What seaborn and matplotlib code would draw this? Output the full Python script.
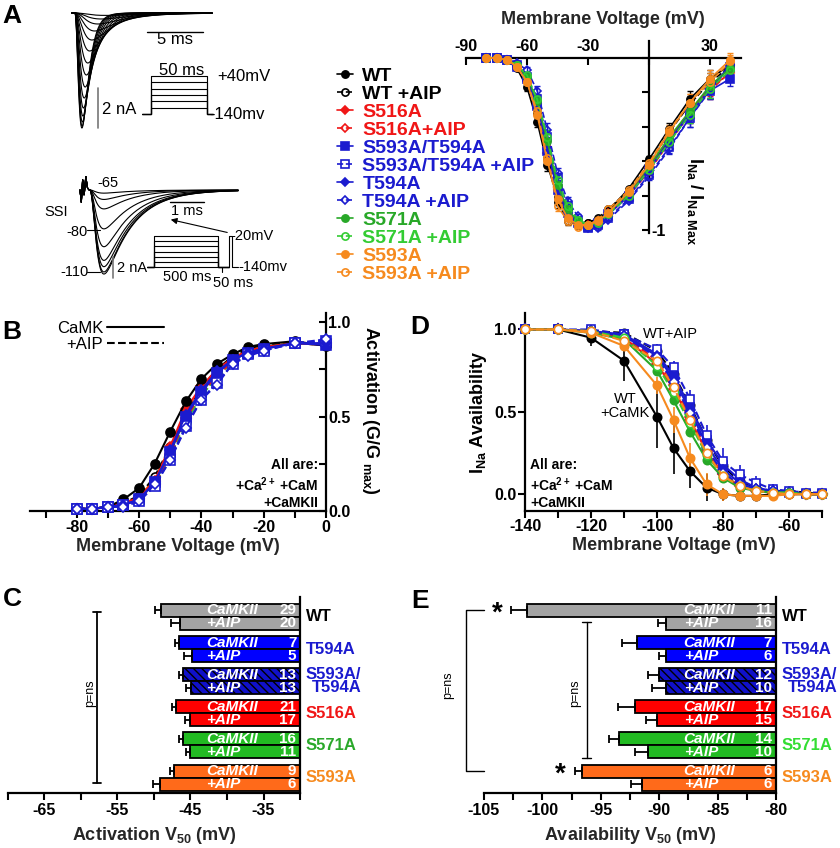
import numpy as np
import pandas as pd
import matplotlib
matplotlib.use("Agg")
import matplotlib.pyplot as plt
import matplotlib.transforms as mtransforms
from matplotlib.lines import Line2D
from matplotlib.ticker import FixedLocator
import seaborn as sns

# ---------------- panel A: current traces (amplitude nA, kinetics ms) ----------------
act_amp_na = [5.75, 5.65, 5.45, 5.15, 4.75, 4.25, 3.7, 3.1, 2.5, 1.9, 1.35, 0.9, 0.55, 0.3, 0.12]
act_tm_ms = [0.38, 0.38, 0.39, 0.40, 0.42, 0.44, 0.47, 0.51, 0.56, 0.62, 0.70, 0.80, 0.92, 1.05, 1.2]
act_th_ms = [0.55, 0.58, 0.62, 0.68, 0.75, 0.85, 0.97, 1.12, 1.3, 1.55, 1.85, 2.2, 2.6, 3.0, 3.5]
act_steps_mv = [-110, -80, -50, -20, 10, 40]

ssi_amp_na = [0.3, 0.9, 1.8, 3.7, 5.4, 6.7, 7.3, 7.8, 8.0]
ssi_tm_ms = 0.15
ssi_th_ms = 0.8
ssi_art_ms = [0.0, 0.04, 0.08, 0.12, 0.17, 0.22, 0.27]
ssi_art_na = [0.0, -1.2, 1.1, -0.6, 1.3, 0.2, 0.0]
ssi_cond_mv = [-140, -120, -100, -80, -60, -40, -20]

# ---------------- panel A: I-V ----------------
iv_mv = [-80, -75, -70, -65, -60, -55, -50, -45, -40, -35, -30, -25, -20, -10, 0, 10, 20, 30, 40]
iv_wt = [0, 0, -0.01, -0.06, -0.17, -0.37, -0.62, -0.81, -0.92, -0.97, -0.96, -0.94, -0.89, -0.76, -0.59, -0.41, -0.24, -0.12, -0.04]
iv_wt_aip = [0, 0, -0.01, -0.04, -0.13, -0.32, -0.58, -0.84, -0.95, -0.97, -0.96, -0.93, -0.88, -0.77, -0.62, -0.43, -0.27, -0.14, -0.05]
iv_s516a = [0, 0, -0.01, -0.04, -0.12, -0.27, -0.52, -0.75, -0.89, -0.95, -0.97, -0.95, -0.90, -0.79, -0.64, -0.47, -0.31, -0.17, -0.09]
iv_s516a_aip = [0, 0, -0.01, -0.05, -0.13, -0.29, -0.55, -0.77, -0.90, -0.96, -0.98, -0.96, -0.91, -0.80, -0.66, -0.49, -0.33, -0.19, -0.08]
iv_dm = [0, 0, -0.01, -0.04, -0.12, -0.28, -0.54, -0.77, -0.90, -0.96, -0.98, -0.96, -0.91, -0.80, -0.65, -0.48, -0.32, -0.19, -0.12]
iv_dm_aip = [0, 0, -0.01, -0.05, -0.11, -0.24, -0.46, -0.70, -0.86, -0.95, -0.99, -0.97, -0.93, -0.82, -0.68, -0.52, -0.35, -0.18, -0.05]
iv_t594a = [0, 0, -0.01, -0.04, -0.12, -0.28, -0.53, -0.76, -0.89, -0.96, -0.98, -0.96, -0.91, -0.80, -0.65, -0.48, -0.33, -0.18, -0.04]
iv_t594a_aip = [0, 0, -0.01, -0.03, -0.07, -0.19, -0.42, -0.67, -0.83, -0.92, -0.99, -0.99, -0.94, -0.83, -0.69, -0.53, -0.35, -0.19, -0.04]
iv_s571a = [0, 0, -0.01, -0.04, -0.11, -0.25, -0.48, -0.74, -0.88, -0.95, -0.97, -0.95, -0.90, -0.78, -0.63, -0.46, -0.31, -0.16, -0.06]
iv_s571a_aip = [0, 0, -0.01, -0.04, -0.10, -0.24, -0.46, -0.71, -0.86, -0.94, -0.97, -0.96, -0.91, -0.80, -0.65, -0.49, -0.33, -0.18, -0.07]
iv_s593a = [0, 0, -0.01, -0.05, -0.14, -0.33, -0.60, -0.82, -0.93, -0.97, -0.97, -0.95, -0.90, -0.78, -0.62, -0.43, -0.26, -0.12, -0.01]
iv_s593a_aip = [0, 0, -0.01, -0.05, -0.14, -0.31, -0.58, -0.86, -0.95, -0.98, -0.97, -0.94, -0.88, -0.77, -0.61, -0.42, -0.26, -0.14, -0.02]
iv_err = [0, 0, 0, 0.01, 0.02, 0.03, 0.04, 0.03, 0.02, 0.01, 0.01, 0.01, 0.01, 0.01, 0.02, 0.03, 0.05, 0.05, 0.04]

# ---------------- panel B: activation ----------------
act_mv = [-80, -75, -70, -65, -60, -55, -50, -45, -40, -35, -30, -25, -20, -10, 0]
act_wt = [0.01, 0.01, 0.02, 0.06, 0.12, 0.25, 0.42, 0.58, 0.70, 0.78, 0.83, 0.87, 0.885, 0.90, 0.875]
act_wt_aip = [0.01, 0.01, 0.02, 0.04, 0.08, 0.18, 0.34, 0.52, 0.65, 0.75, 0.82, 0.86, 0.88, 0.89, 0.88]
act_s516a = [0.01, 0.01, 0.02, 0.04, 0.07, 0.16, 0.34, 0.54, 0.66, 0.75, 0.81, 0.85, 0.87, 0.89, 0.88]
act_s516a_aip = [0.01, 0.01, 0.02, 0.03, 0.06, 0.14, 0.30, 0.49, 0.62, 0.72, 0.79, 0.84, 0.86, 0.89, 0.89]
act_dm = [0.01, 0.01, 0.02, 0.03, 0.06, 0.15, 0.31, 0.50, 0.63, 0.73, 0.80, 0.84, 0.86, 0.89, 0.88]
act_dm_aip = [0.01, 0.01, 0.02, 0.03, 0.05, 0.13, 0.27, 0.45, 0.59, 0.68, 0.78, 0.83, 0.85, 0.89, 0.90]
act_t594a = [0.01, 0.01, 0.02, 0.03, 0.06, 0.15, 0.32, 0.51, 0.64, 0.74, 0.80, 0.84, 0.86, 0.89, 0.89]
act_t594a_aip = [0.01, 0.01, 0.02, 0.02, 0.05, 0.14, 0.27, 0.44, 0.59, 0.67, 0.78, 0.82, 0.85, 0.89, 0.91]
act_s571a = [0.01, 0.01, 0.02, 0.03, 0.06, 0.15, 0.31, 0.50, 0.63, 0.73, 0.80, 0.85, 0.87, 0.89, 0.88]
act_s571a_aip = [0.01, 0.01, 0.02, 0.03, 0.06, 0.14, 0.29, 0.47, 0.61, 0.71, 0.79, 0.84, 0.86, 0.89, 0.89]
act_s593a = [0.01, 0.01, 0.02, 0.04, 0.07, 0.17, 0.33, 0.52, 0.65, 0.75, 0.81, 0.85, 0.87, 0.89, 0.88]
act_s593a_aip = [0.01, 0.01, 0.02, 0.03, 0.06, 0.15, 0.31, 0.50, 0.63, 0.73, 0.80, 0.84, 0.86, 0.89, 0.89]

# ---------------- panel D: availability ----------------
ssi_mv = [-140, -130, -120, -110, -100, -95, -90, -85, -80, -75, -70, -65, -60, -55, -50]
ssi_wt = [1.0, 1.0, 0.95, 0.81, 0.47, 0.28, 0.14, 0.04, 0.0, -0.01, -0.01, 0, 0, 0, 0]
ssi_wt_aip = [1.0, 1.0, 0.99, 0.98, 0.87, 0.73, 0.54, 0.33, 0.17, 0.08, 0.04, 0.02, 0.02, 0.01, 0.0]
ssi_s516a = [1.0, 1.0, 0.99, 0.95, 0.79, 0.64, 0.45, 0.26, 0.12, 0.05, 0.02, 0.01, 0.01, 0, 0]
ssi_s516a_aip = [1.0, 1.0, 0.99, 0.96, 0.81, 0.66, 0.47, 0.27, 0.12, 0.06, 0.03, 0.01, 0.01, 0, 0]
ssi_dm = [1.0, 1.0, 0.99, 0.97, 0.85, 0.72, 0.53, 0.33, 0.18, 0.09, 0.04, 0.02, 0.01, 0, 0]
ssi_dm_aip = [1.0, 1.0, 1.0, 0.97, 0.88, 0.77, 0.58, 0.36, 0.20, 0.12, 0.07, 0.03, 0.02, 0.01, 0.01]
ssi_t594a = [1.0, 1.0, 0.99, 0.96, 0.84, 0.70, 0.51, 0.30, 0.15, 0.07, 0.03, 0.02, 0.01, 0, 0]
ssi_t594a_aip = [1.0, 1.0, 0.99, 0.96, 0.83, 0.68, 0.49, 0.28, 0.13, 0.06, 0.03, 0.02, 0.01, 0, 0]
ssi_s571a = [1.0, 1.0, 0.98, 0.94, 0.75, 0.57, 0.38, 0.21, 0.10, 0.04, 0.02, 0.01, 0.01, 0, 0]
ssi_s571a_aip = [1.0, 1.0, 0.99, 0.95, 0.78, 0.62, 0.43, 0.24, 0.11, 0.05, 0.02, 0.01, 0.01, 0, 0]
ssi_s593a = [1.0, 1.0, 0.98, 0.90, 0.66, 0.45, 0.22, 0.06, 0.0, -0.01, -0.01, -0.01, 0, 0, 0]
ssi_s593a_aip = [1.0, 1.0, 0.99, 0.93, 0.81, 0.65, 0.45, 0.25, 0.11, 0.05, 0.02, 0.01, 0.0, 0, 0]
ssi_wt_err = [0.02, 0.01, 0.05, 0.12, 0.19, 0.16, 0.10, 0.08, 0.04, 0.02, 0.01, 0.01, 0.01, 0.01, 0.01]
ssi_s593a_err = [0.01, 0.01, 0.02, 0.03, 0.05, 0.08, 0.09, 0.07, 0.04, 0.02, 0.01, 0.01, 0.01, 0.01, 0.01]
ssi_dm_aip_err = [0.01, 0.01, 0.01, 0.02, 0.03, 0.04, 0.05, 0.06, 0.08, 0.06, 0.04, 0.03, 0.02, 0.01, 0.01]

# ---------------- series styles ----------------
series_names = ["WT", "WT +AIP", "S516A", "S516A+AIP", "S593A/T594A", "S593A/T594A +AIP",
                "T594A", "T594A +AIP", "S571A", "S571A +AIP", "S593A", "S593A +AIP"]
series_colors = ["black", "black", "#f01616", "#f01616", "#1b1bcf", "#1b1bcf",
                 "#1b1bcf", "#1b1bcf", "#28a828", "#33cc33", "#f68a1e", "#f68a1e"]
series_markers = ["o", "o", "D", "D", "s", "s", "D", "D", "o", "o", "o", "o"]
iv_series = [iv_wt, iv_wt_aip, iv_s516a, iv_s516a_aip, iv_dm, iv_dm_aip,
             iv_t594a, iv_t594a_aip, iv_s571a, iv_s571a_aip, iv_s593a, iv_s593a_aip]
act_series = [act_wt, act_wt_aip, act_s516a, act_s516a_aip, act_dm, act_dm_aip,
              act_t594a, act_t594a_aip, act_s571a, act_s571a_aip, act_s593a, act_s593a_aip]
ssi_series = [ssi_wt, ssi_wt_aip, ssi_s516a, ssi_s516a_aip, ssi_dm, ssi_dm_aip,
              ssi_t594a, ssi_t594a_aip, ssi_s571a, ssi_s571a_aip, ssi_s593a, ssi_s593a_aip]
# drawing order in B: orange underneath, blue on top
act_zorder = [3.5, 3.1, 3.4, 3.3, 3.6, 3.6, 3.8, 3.8, 3.2, 3.2, 3.0, 3.0]

# ---------------- panels C, E: V50 bars ----------------
bar_groups = ["WT", "T594A", "S593A/\nT594A", "S516A", "S571A", "S593A"]
bar_colors = ["#a3a3a3", "#0000ff", "#1010c8", "#ff0000", "#22bb22", "#ff6a1a"]
label_colors = ["black", "#1b1bcf", "#1b1bcf", "#f01616", "#2aa82a", "#f68a1e"]
e_label_colors = ["black", "#1b1bcf", "#1b1bcf", "#f01616", "#33dd33", "#f68a1e"]

act_v50_camk = [-49.1, -46.6, -46.05, -46.97, -46.05, -47.3]
act_v50_aip = [-46.5, -44.8, -44.9, -45.1, -45.1, -49.2]
act_sem_camk = [0.83, 0.5, 0.46, 0.55, 0.46, 0.5]
act_sem_aip = [1.15, 1.15, 0.7, 0.7, 0.46, 0.9]
act_n_camk = [29, 7, 13, 21, 16, 9]
act_n_aip = [20, 5, 13, 17, 11, 6]

avail_v50_camk = [-101.3, -91.9, -90.0, -92.1, -93.4, -96.6]
avail_v50_aip = [-89.4, -89.4, -89.4, -90.2, -91.0, -91.5]
avail_sem_camk = [1.4, 1.3, 1.0, 1.4, 0.9, 0.6]
avail_sem_aip = [0.7, 0.6, 1.2, 0.9, 1.1, 0.9]
avail_n_camk = [11, 7, 12, 17, 14, 6]
avail_n_aip = [16, 6, 10, 15, 10, 6]

# ---------------- style ----------------
sns.set_style("ticks")
plt.rcParams["font.family"] = ["Liberation Sans", "DejaVu Sans"]
plt.rcParams.update({
    "font.weight": "bold",
    "axes.labelweight": "bold",
    "axes.unicode_minus": False,
    "axes.linewidth": 1.6,
    "axes.edgecolor": "black",
    "text.color": "black",
    "xtick.color": "black",
    "ytick.color": "black",
    "xtick.major.width": 1.5, "ytick.major.width": 1.5,
    "xtick.minor.width": 1.5, "ytick.minor.width": 1.5,
    "xtick.major.size": 4.5, "ytick.major.size": 4.5,
    "xtick.minor.size": 4.5, "ytick.minor.size": 4.5,
    "xtick.labelsize": 11.5, "ytick.labelsize": 11.5,
    "hatch.linewidth": 1.0,
    "mathtext.fontset": "custom",
    "mathtext.rm": "Liberation Sans:bold",
    "mathtext.it": "Liberation Sans:italic:bold",
    "mathtext.bf": "Liberation Sans:bold",
    "mathtext.default": "rm",
})

W, H = 840, 848
fig = plt.figure(figsize=(W / 100, H / 100), dpi=100)


def px_box(x0, y0, x1, y1):
    return [x0 / W, 1 - y1 / H, (x1 - x0) / W, (y1 - y0) / H]


def hh_wave(t, tm, th, delay=0.25):
    tt = np.clip(t - delay, 0, None)
    w = (1 - np.exp(-tt / tm)) ** 3 * np.exp(-tt / th)
    return w / w.max()


NORMAL = dict(fontweight="normal")

# ---------------- A: activation traces ----------------
ax_t1 = fig.add_axes(px_box(60, 0, 245, 135))
ax_t1.set_xlim(-1.07, 15.45)
ax_t1.set_ylim(-6.1, 0.65)
ax_t1.axis("off")
t1 = np.linspace(0, 12.5, 800)
for amp, tm, th in zip(act_amp_na, act_tm_ms, act_th_ms):
    ax_t1.plot(t1, -amp * hh_wave(t1, tm, th), color="black", lw=0.8)
ax_t1.plot([6.7, 11.7], [-0.95, -0.95], color="black", lw=1)
ax_t1.text(9.2, -1.3, "5 ms", ha="center", va="center", fontsize=12, **NORMAL)
ax_t1.plot([2.32, 2.32], [-3.75, -5.75], color="#777777", lw=1.2)
ax_t1.text(2.68, -4.85, "2 nA", ha="left", va="center", fontsize=12, **NORMAL)

ax_p1 = fig.add_axes(px_box(130, 60, 270, 125))
ax_p1.set_xlim(-10.7, 114.3)
ax_p1.set_ylim(-192.1, 116)
ax_p1.axis("off")
for lvl in act_steps_mv:
    ax_p1.plot([0, 8, 8, 58, 58, 63], [-140, -140, lvl, lvl, -140, -140], color="black", lw=0.8)
ax_p1.text(35.7, 68, "50 ms", ha="center", va="center", fontsize=12, **NORMAL)
ax_p1.text(67, 40, "+40mV", ha="left", va="center", fontsize=12, **NORMAL)
ax_p1.text(60.5, -140, "-140mv", ha="left", va="center", fontsize=12, **NORMAL)

# ---------------- A: SSI traces ----------------
ax_t2 = fig.add_axes(px_box(40, 165, 250, 290))
ax_t2.set_xlim(-1.176, 5.0)
ax_t2.set_ylim(-9.52, 2.38)
ax_t2.axis("off")
t2 = np.linspace(0, 4.65, 600)
art = np.interp(t2, ssi_art_ms, ssi_art_na)
for amp in ssi_amp_na:
    ax_t2.plot(t2, art - amp * hh_wave(t2, ssi_tm_ms, ssi_th_ms, delay=0.28), color="black", lw=0.8)
ax_t2.plot([2.65, 3.65], [-1.14, -1.14], color="black", lw=1)
ax_t2.text(3.15, -2.0, "1 ms", ha="center", va="center", fontsize=10.5, **NORMAL)
ax_t2.plot([0.97, 0.97], [-6.38, -8.38], color="#777777", lw=1.2)
ax_t2.text(1.09, -7.43, "2 nA", ha="left", va="center", fontsize=10.5, **NORMAL)
ax_t2.text(0.82, 0.67, "-65", ha="center", va="center", fontsize=10.5, **NORMAL)
ax_t2.text(-0.7, -2.1, "SSI", ha="center", va="center", fontsize=10.5, **NORMAL)
ax_t2.text(-0.09, -4.0, "-80", ha="center", va="center", fontsize=10.5, **NORMAL)
ax_t2.plot([0.21, 0.59], [-3.8, -3.8], color="black", lw=0.8)
ax_t2.text(-0.15, -7.8, "-110", ha="center", va="center", fontsize=10.5, **NORMAL)
ax_t2.plot([0.21, 0.59], [-7.8, -7.8], color="black", lw=0.8)
ax_t2.annotate("", xy=(2.59, -2.76), xytext=(4.41, -4.10),
               arrowprops=dict(arrowstyle="-|>", color="black", lw=0.8, mutation_scale=9))

ax_p2 = fig.add_axes(px_box(140, 225, 290, 290))
ax_p2.set_xlim(-54.6, 1115)
ax_p2.set_ylim(-229, 22.6)
ax_p2.axis("off")
for lvl in ssi_cond_mv:
    ax_p2.plot([0, 55, 55, 555, 555, 640], [-140, -140, lvl, lvl, -140, -140], color="black", lw=0.8)
ax_p2.plot([640, 640, 660, 660, 710], [-140, -20, -20, -140, -140], color="black", lw=0.8)
ax_p2.plot([585, 585], [-140, -159], color="black", lw=0.8)
ax_p2.text(312, -180, "500 ms", ha="center", va="center", fontsize=10.5, **NORMAL)
ax_p2.text(671, -203, "50 ms", ha="center", va="center", fontsize=10.5, **NORMAL)
ax_p2.text(650, -20, "-20mV", ha="left", va="center", fontsize=10.5, **NORMAL)
ax_p2.text(712, -140, "-140mv", ha="left", va="center", fontsize=10.5, **NORMAL)


def draw_series(ax, x, series, ms_o, ms_d, face_open, lw=1.2, with_label=False, zorders=None):
    for i, vals in enumerate(series):
        c = series_colors[i]
        m = series_markers[i]
        filled = i % 2 == 0
        ms = ms_d if m == "D" else ms_o
        sns.lineplot(x=x, y=vals, ax=ax, color=c, marker=m, markersize=ms,
                     markerfacecolor=c if filled else face_open, markeredgecolor=c,
                     markeredgewidth=1.2, linewidth=lw, linestyle="-" if filled else "--",
                     label=series_names[i] if with_label else None, legend=False,
                     clip_on=False, zorder=zorders[i] if zorders else 3)


def bold_ticks(ax):
    for lab in ax.get_xticklabels() + ax.get_yticklabels():
        lab.set_fontweight("bold")


# ---------------- A: I-V ----------------
ax_iv = fig.add_axes(px_box(466, 40.8, 740.5, 233.4))
draw_series(ax_iv, iv_mv, iv_series, 5.2, 4.3, "none", with_label=True)
for i, vals in enumerate(iv_series):
    ax_iv.errorbar(iv_mv, vals, yerr=iv_err, fmt="none", ecolor=series_colors[i],
                   elinewidth=1, capsize=2, zorder=2, clip_on=False)
ax_iv.set_xlim(-90, 45)
ax_iv.set_ylim(-1.02, 0.1)
ax_iv.spines["left"].set_visible(False)
ax_iv.spines["bottom"].set_visible(False)
ax_iv.spines["top"].set_visible(True)
ax_iv.spines["right"].set_visible(True)
ax_iv.spines["top"].set_position(("data", 0))
ax_iv.spines["right"].set_position(("data", 0))
ax_iv.xaxis.tick_top()
ax_iv.yaxis.tick_right()
ax_iv.set_xticks([-90, -60, -30, 0, 30])
ax_iv.set_xticklabels(["-90", "-60", "-30", "", "30"])
ax_iv.set_yticks([-1, -0.8, -0.6, -0.4, -0.2, 0])
ax_iv.set_yticklabels(["-1", "", "", "", "", ""])
ax_iv.tick_params(axis="x", direction="in", length=5, pad=3)
ax_iv.tick_params(axis="y", direction="in", length=5, pad=2)
ax_iv.xaxis.set_label_position("top")
ax_iv.set_xlabel("Membrane Voltage (mV)", fontsize=13, fontweight="bold", labelpad=11)
ax_iv.set_ylabel("")
ax_iv.text(0.834, 0.17, "I$_{\\mathrm{Na}}$ / I$_{\\mathrm{Na\\ Max}}$", transform=ax_iv.transAxes,
           rotation=270, ha="center", va="center", fontsize=13)

handles, labels = ax_iv.get_legend_handles_labels()
fig.legend(handles, labels, loc="upper left", bbox_to_anchor=(337 / W, 1 - 67 / H),
           frameon=False, prop=dict(size=14, weight="bold"), labelcolor=series_colors,
           handlelength=0.8, handletextpad=0.5, labelspacing=0.02, borderpad=0, borderaxespad=0)

# ---------------- B: activation ----------------
ax_b = fig.add_axes(px_box(30, 313, 326, 510.7))
draw_series(ax_b, act_mv, act_series, 6.5, 5.5, "white", lw=1.5, zorders=act_zorder)
ax_b.set_xlim(-95, 0)
ax_b.set_ylim(0, 1.05)
sns.despine(ax=ax_b, left=True, right=False)
ax_b.yaxis.tick_right()
ax_b.set_xticks([-80, -60, -40, -20, 0])
ax_b.xaxis.set_minor_locator(FixedLocator([-90, -70, -50, -30, -10]))
ax_b.set_yticks([0, 0.5, 1.0])
ax_b.set_yticklabels(["0.0", "0.5", "1.0"])
ax_b.yaxis.set_minor_locator(FixedLocator([0.25, 0.75]))
ax_b.tick_params(axis="x", which="both", direction="out", length=5, pad=2)
ax_b.tick_params(axis="y", which="both", direction="in", length=5, pad=1.5)
ax_b.set_xlabel("Membrane Voltage (mV)", fontsize=13, fontweight="bold", labelpad=2)
ax_b.set_ylabel("")
ax_b.text(1.149, 0.509, "Activation (G/G $_{\\mathrm{max}}$)", transform=ax_b.transAxes,
          rotation=270, ha="center", va="center", fontsize=13)
ax_b.text(0.973, 0.135, "All are:\n+Ca$^{2+}$ +CaM\n+CaMKII", transform=ax_b.transAxes,
          ha="right", va="center", multialignment="right", fontsize=10, linespacing=1.2)
ax_b.legend([Line2D([], [], color="black", lw=1.5), Line2D([], [], color="black", lw=1.5, ls="--")],
            ["CaMK", "+AIP"], markerfirst=False, frameon=False, loc="upper left",
            bbox_to_anchor=(0.091, 0.96), prop=dict(size=12, weight="normal"),
            handlelength=3.4, handletextpad=0.25, labelspacing=0.05, borderpad=0, borderaxespad=0)

# ---------------- D: availability ----------------
ax_d = fig.add_axes(px_box(525, 313, 822, 510.7))
for vals, err, c in [(ssi_wt, ssi_wt_err, "black"), (ssi_s593a, ssi_s593a_err, "#f68a1e"),
                     (ssi_dm_aip, ssi_dm_aip_err, "#1b1bcf")]:
    ax_d.errorbar(ssi_mv, vals, yerr=err, fmt="none", ecolor=c, elinewidth=1.2, capsize=0, zorder=2)
draw_series(ax_d, ssi_mv, ssi_series, 6, 5, "white", lw=1.5)
ax_d.set_xlim(-140, -50)
ax_d.set_ylim(-0.1, 1.1)
sns.despine(ax=ax_d)
ax_d.set_xticks([-140, -120, -100, -80, -60])
ax_d.xaxis.set_minor_locator(FixedLocator([-130, -110, -90, -70, -50]))
ax_d.set_yticks([0, 0.5, 1.0])
ax_d.set_yticklabels(["0.0", "0.5", "1.0"])
ax_d.tick_params(axis="both", which="both", direction="out", length=5, pad=1)
ax_d.set_xlabel("Membrane Voltage (mV)", fontsize=13, fontweight="bold", labelpad=2)
ax_d.set_ylabel("")
ax_d.text(-0.158, 0.5, "I$_{\\mathrm{Na}}$ Availability", transform=ax_d.transAxes,
          rotation=90, ha="center", va="center", fontsize=13)
ax_d.text(-95.8, 0.975, "WT+AIP", ha="center", va="center", fontsize=10.5, **NORMAL)
ax_d.text(-109.7, 0.535, "WT\n+CaMK", ha="center", va="center", fontsize=10.5,
          linespacing=1.05, **NORMAL)
ax_d.text(0.017, 0.135, "All are:\n+Ca$^{2+}$ +CaM\n+CaMKII", transform=ax_d.transAxes,
          ha="left", va="center", multialignment="left", fontsize=10, linespacing=1.2)


# ---------------- C / E: bars ----------------
def bar_panel(ax, v_camk, v_aip, sem_camk, sem_aip, n_camk, n_aip, xlim, txt_x, n_x, lab_colors):
    df = pd.DataFrame({"group": bar_groups * 2,
                       "cond": ["CaMKII"] * len(bar_groups) + ["+AIP"] * len(bar_groups),
                       "v50": v_camk + v_aip})
    sns.barplot(data=df, x="v50", y="group", hue="cond", orient="h", width=0.81, ax=ax,
                legend=False, errorbar=None, saturation=1, palette=["#999999", "#999999"],
                edgecolor="black", linewidth=1.3)
    for cont, vals, sems, ns, word in [(ax.containers[0], v_camk, sem_camk, n_camk, "CaMKII"),
                                       (ax.containers[1], v_aip, sem_aip, n_aip, "+AIP")]:
        ys = []
        for k, bar in enumerate(cont):
            bar.set_facecolor(bar_colors[k])
            if k == 2:
                bar.set_hatch("\\\\\\\\")
            y = bar.get_y() + bar.get_height() / 2
            ys.append(y)
            ax.text(txt_x, y, word, color="white", style="italic", fontsize=11,
                    ha="left", va="center", zorder=5)
            ax.text(n_x, y, str(ns[k]), color="white", fontsize=11, ha="right", va="center", zorder=5)
        ax.errorbar(vals, ys, xerr=[sems, [0] * len(sems)], fmt="none", ecolor="black",
                    elinewidth=1.3, capsize=3, capthick=1.3, zorder=4)
    trans = mtransforms.blended_transform_factory(ax.transAxes, ax.transData)
    for k, lab in enumerate(bar_groups):
        ax.text(1.02, k, lab, transform=trans, color=lab_colors[k], fontsize=12,
                ha="left", va="center", multialignment="right", linespacing=0.8)
    ax.set_xlim(*xlim)
    ax.set_ylim(5.48, -0.62)
    ax.set_yticks([])
    ax.set_ylabel("")
    sns.despine(ax=ax, left=True, right=False)
    ax.tick_params(axis="x", which="both", direction="out", length=5, pad=2)


ax_c = fig.add_axes(px_box(8, 597, 300, 793))
bar_panel(ax_c, act_v50_camk, act_v50_aip, act_sem_camk, act_sem_aip, act_n_camk, act_n_aip,
          (-70, -30), -42.8, -30.5, label_colors)
ax_c.set_xticks([-65, -55, -45, -35])
ax_c.xaxis.set_minor_locator(FixedLocator([-70, -60, -50, -40, -30]))
ax_c.set_xlabel("Activation V$_{50}$ (mV)", fontsize=13, fontweight="bold", labelpad=5)
ax_c.plot([-57.8, -57.8], [-0.16, 5.17], color="black", lw=1.3, clip_on=False)
ax_c.plot([-58.4, -57.2], [-0.16, -0.16], color="black", lw=1.3, clip_on=False)
ax_c.plot([-58.4, -57.2], [5.17, 5.17], color="black", lw=1.3, clip_on=False)
ax_c.text(-58.8, 2.37, "p=ns", rotation=90, ha="center", va="center", fontsize=9, **NORMAL)

ax_e = fig.add_axes(px_box(484, 597, 776, 793))
bar_panel(ax_e, avail_v50_camk, avail_v50_aip, avail_sem_camk, avail_sem_aip, avail_n_camk,
          avail_n_aip, (-105, -80), -87.9, -80.35, e_label_colors)
ax_e.set_xticks([-105, -100, -95, -90, -85, -80])
ax_e.xaxis.set_minor_locator(FixedLocator([-102.5, -97.5, -92.5, -87.5, -82.5]))
ax_e.set_xlabel("Availability V$_{50}$ (mV)", fontsize=13, fontweight="bold", labelpad=5)
ax_e.plot([-105, -106.5, -106.5, -105], [-0.2, -0.2, 4.8, 4.8], color="black", lw=1, clip_on=False)
ax_e.text(-108.1, 2.12, "p=ns", rotation=90, ha="center", va="center", fontsize=9, **NORMAL)
ax_e.plot([-96.2, -96.2], [0.15, 4.4], color="black", lw=1, clip_on=False)
ax_e.plot([-96.6, -95.8], [0.15, 0.15], color="black", lw=1, clip_on=False)
ax_e.plot([-96.6, -95.8], [4.4, 4.4], color="black", lw=1, clip_on=False)
ax_e.text(-97.2, 2.37, "p=ns", rotation=90, ha="center", va="center", fontsize=9, **NORMAL)
ax_e.text(-103.9, -0.1, "*", ha="center", va="center", fontsize=20)
ax_e.text(-98.5, 4.9, "*", ha="center", va="center", fontsize=20)

for ax in [ax_iv, ax_b, ax_d, ax_c, ax_e]:
    bold_ticks(ax)

# ---------------- panel letters ----------------
for letter, x, y in [("A", 12, 16), ("B", 12, 332), ("D", 420, 327), ("C", 12, 599), ("E", 420, 601)]:
    fig.text(x / W, 1 - y / H, letter, ha="center", va="center", fontsize=19, fontweight="bold")

fig.savefig("out.png", dpi=100)
